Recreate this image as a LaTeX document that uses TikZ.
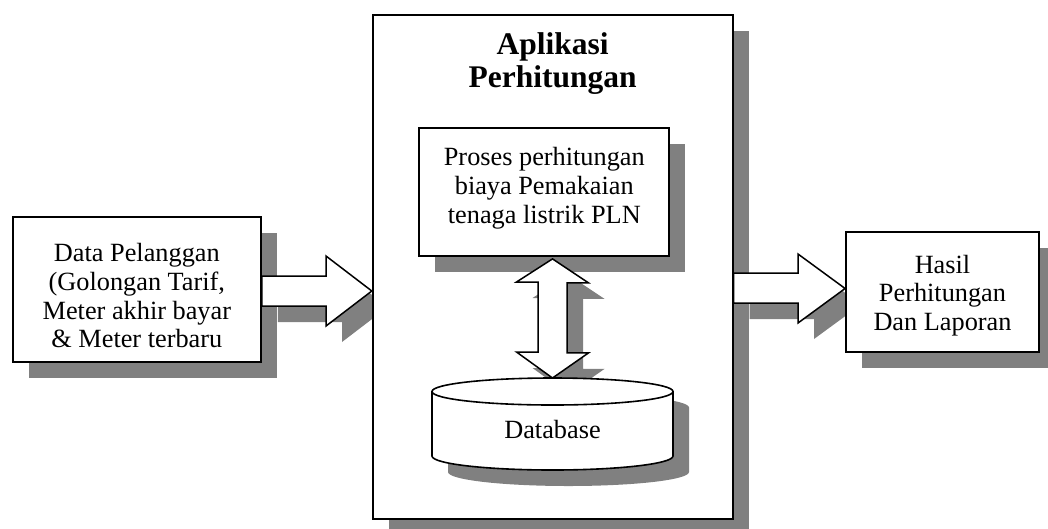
\documentclass[tikz,border=0pt]{standalone}
\usepackage{fontspec}
\setmainfont{Liberation Serif}
\usetikzlibrary{shadows,calc}
\definecolor{shadowgray}{HTML}{808080}
\pgfdeclarelayer{back}
\pgfdeclarelayer{front}
\pgfsetlayers{back,main,front}
\begin{document}
\begin{tikzpicture}[x=1pt,y=-1pt,
  castshadow/.style={drop shadow={shadow xshift=16pt,shadow yshift=-16pt,fill=shadowgray,opacity=1}},
  box/.style={draw,line width=1.8pt,fill=white,inner sep=0pt,castshadow},
  blockarrow/.style={draw,line width=1.5pt,fill=white,line join=miter,castshadow},
  cyl/.style={draw,line width=1.6pt,fill=white,castshadow},
  txt/.style={font=\fontsize{26.3}{28.8}\selectfont,align=center,inner sep=0pt},
  heading/.style={font=\fontsize{31.5}{33}\selectfont\bfseries,align=center,inner sep=0pt}]
\useasboundingbox (0,0) rectangle (1048,528);

% application frame
\node[box,minimum width=360pt,minimum height=503.7pt] (app) at (552.7,266.85) {};
\node[heading] (apptitle) at (552.7,64) {Aplikasi\\Perhitungan};

% customer data and the arrow into the application
\begin{pgfonlayer}{back}
\node[box,minimum width=248.3pt,minimum height=145pt] (input) at (136.85,289.75) {};
\node[txt] (inputtext) at ([yshift=-6pt]input.center) {Data Pelanggan\\(Golongan Tarif,\\Meter akhir bayar\\\& Meter terbaru};
\draw[blockarrow] (input.east |- 0,276) -- (326,276) -- (326,256) -- (app.west |- 0,291)
  -- (326,326) -- (326,306) -- (input.east |- 0,306) -- cycle;
\end{pgfonlayer}

% calculation process
\node[box,minimum width=250pt,minimum height=128pt] (calc) at (544.3,192) {};
\node[txt] (calctext) at ([yshift=4pt]calc.center) {Proses perhitungan\\biaya Pemakaian\\tenaga listrik PLN};

% two-way arrow between process and database
\coordinate (dbtop) at (552.5,378);
\draw[blockarrow] ($(dbtop |- calc.south)+(0,2)$) -- ++(36,24) -- ++(-21.5,0) -- ++(0,70)
  -- ++(21.5,0) -- (dbtop) -- ++(-36,-26) -- ++(21.5,0) -- ++(0,-70) -- ++(-21.5,0) -- cycle;

% database cylinder
\path[cyl] (432,391.5) -- (432,456)
  arc[start angle=180,end angle=360,x radius=120.5pt,y radius=14pt]
  -- (673,391.5)
  arc[start angle=0,end angle=180,x radius=120.5pt,y radius=13.5pt] -- cycle;
\draw[line width=1.6pt] (432,391.5) arc[start angle=180,end angle=360,x radius=120.5pt,y radius=13.5pt];
\node[txt] (db) at (552.5,429) {Database};

% results box
\begin{pgfonlayer}{front}
\node[box,minimum width=193pt,minimum height=120pt] (result) at (942.5,292) {};
\node[txt] (resulttext) at ([yshift=-3.5pt]result.center) {Hasil\\Perhitungan\\Dan Laporan};
\end{pgfonlayer}

% arrow from the application to the results
\draw[blockarrow] (app.east |- 0,273) -- (798,273) -- (798,254) -- (result.west |- 0,288.5)
  -- (798,323) -- (798,303) -- (app.east |- 0,303) -- cycle;
\end{tikzpicture}
\end{document}
